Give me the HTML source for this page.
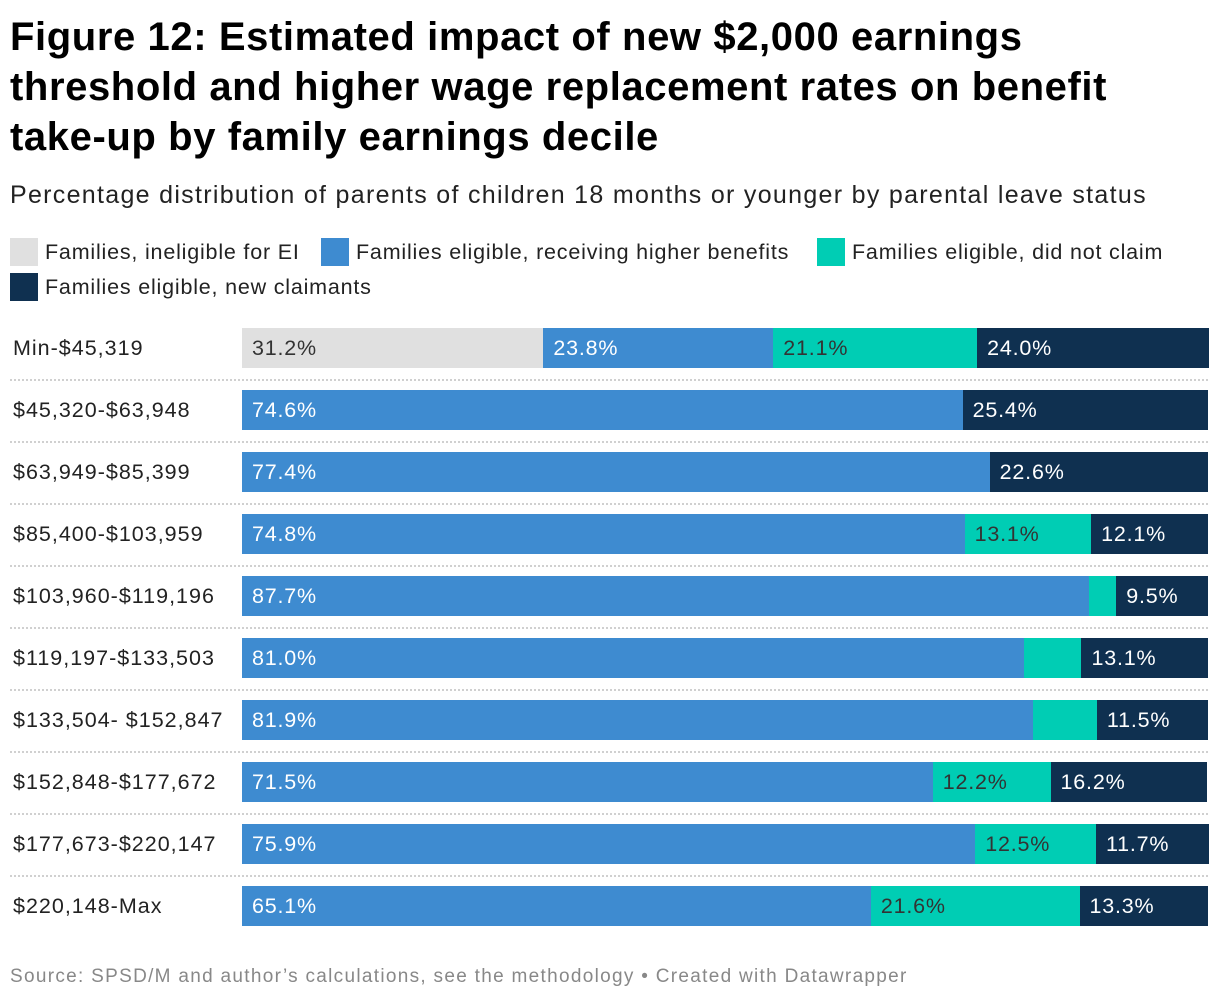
<!DOCTYPE html>
<html><head><meta charset="utf-8"><style>
body{margin:0;width:1220px;height:1004px;background:#fff;font-family:"Liberation Sans",Arial,sans-serif;color:#1d1d1d;position:relative;overflow:hidden}
#title{position:absolute;left:10px;top:12px;width:1210px;font-size:40px;font-weight:bold;line-height:50px;margin:0;color:#000;letter-spacing:0.6px;white-space:nowrap}
#sub{position:absolute;left:10px;top:181px;font-size:25px;color:#222;letter-spacing:1.3px}
.leg{position:absolute;font-size:21.5px;display:flex;align-items:center;color:#222;letter-spacing:0.8px}
.sw{width:28px;height:28px;margin-right:7px}
.rl{position:absolute;left:13px;font-size:21.5px;color:#222;letter-spacing:1px}
.sep{position:absolute;left:10px;width:1198px;border-top:2px dotted #d0d0d0}
.seg{position:absolute;height:40px;font-size:21.5px;line-height:40px;box-sizing:border-box;padding-left:10px;white-space:nowrap;overflow:hidden;letter-spacing:0.8px}
#src{position:absolute;left:10px;top:966px;font-size:19px;color:#888;letter-spacing:1.3px}
</style></head><body>
<h1 id="title">Figure 12: Estimated impact of new $2,000 earnings<br>threshold and higher wage replacement rates on benefit<br>take-up by family earnings decile</h1>
<div id="sub">Percentage distribution of parents of children 18 months or younger by parental leave status</div>
<div class="leg" style="left:10px;top:238px"><div class="sw" style="background:#e0e0e0"></div>Families, ineligible for EI</div>
<div class="leg" style="left:321px;top:238px"><div class="sw" style="background:#3e8bd0"></div>Families eligible, receiving higher benefits</div>
<div class="leg" style="left:817px;top:238px"><div class="sw" style="background:#00cdb4"></div>Families eligible, did not claim</div>
<div class="leg" style="left:10px;top:273px"><div class="sw" style="background:#0f3050"></div>Families eligible, new claimants</div>
<div id="chart"></div>
<div id="src">Source: SPSD/M and author’s calculations, see the methodology • Created with Datawrapper</div>
<script>
const categories=["Min-$45,319","$45,320-$63,948","$63,949-$85,399","$85,400-$103,959","$103,960-$119,196","$119,197-$133,503","$133,504- $152,847","$152,848-$177,672","$177,673-$220,147","$220,148-Max"];
const ineligible=[31.2,0,0,0,0,0,0,0,0,0];
const higherBenefits=[23.8,74.6,77.4,74.8,87.7,81.0,81.9,71.5,75.9,65.1];
const didNotClaim=[21.1,0,0,13.1,2.8,5.9,6.6,12.2,12.5,21.6];
const newClaimants=[24.0,25.4,22.6,12.1,9.5,13.1,11.5,16.2,11.7,13.3];
const series=[[ineligible,"#e0e0e0","#333","ineligible"],[higherBenefits,"#3e8bd0","#fff","higher-benefits"],[didNotClaim,"#00cdb4","#333","did-not-claim"],[newClaimants,"#0f3050","#fff","new-claimants"]];
const x0=242,W=966,y0=328,step=62;
const xs=v=>v/100*W;
const chart=document.getElementById('chart');
categories.forEach((c,i)=>{
  const y=y0+i*step;
  const l=document.createElement('div');l.className='rl';l.style.top=(y+8)+'px';l.textContent=c;
  
  
  chart.appendChild(l);
  if(i>0){const s=document.createElement('div');s.className='sep';s.style.top=(y-11)+'px';
    
    
    chart.appendChild(s);}
  let acc=0;
  series.forEach(([arr,col,tc,nm])=>{
    const v=arr[i];if(!v)return;
    const b=document.createElement('div');b.className='seg';
    b.style.left=(x0+xs(acc))+'px';b.style.top=y+'px';b.style.width=xs(v)+'px';
    b.style.background=col;b.style.color=tc;
    if(v>=8)b.textContent=v.toFixed(1)+'%';
    
    
    chart.appendChild(b);acc+=v;
  });
});
</script>
</body></html>
